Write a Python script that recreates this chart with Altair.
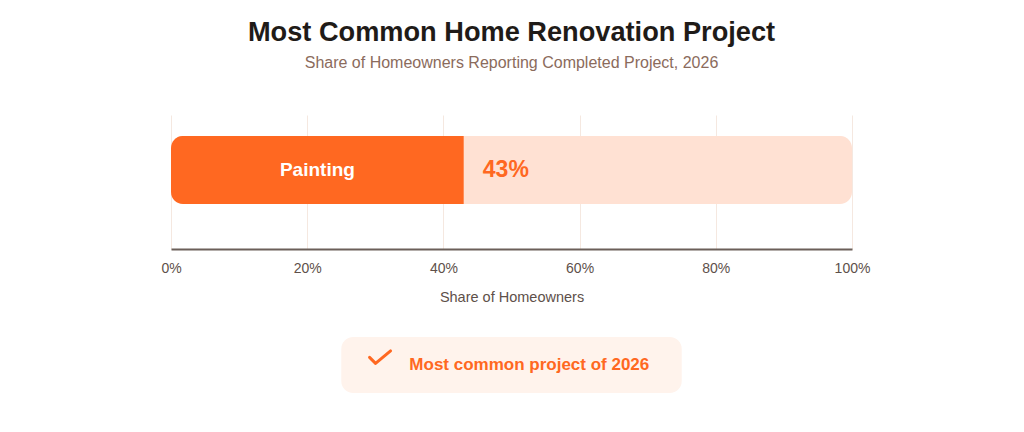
"""Most common home renovation project (Altair)."""

import altair as alt
import pandas as pd

FONT = "Liberation Sans"
ORANGE = "#ff6821"
PEACH = "#ffe1d3"

# data
projects = ["Painting"]
shares = [43]
track_end = [100]
axis_ticks = [0, 20, 40, 60, 80, 100]

callout_text = ["Most common project of 2026"]
callout_start = [25]
callout_end = [75]
check_x = [30.7]
check_y = [0.64]
text_x = [35]
text_y = [0.5]

bars = pd.DataFrame({"project": projects, "share": shares, "track": track_end})
bars["mid"] = bars["share"] / 2
bars["label"] = bars["share"].astype(int).astype(str) + "%"

x_scale = alt.Scale(domain=[0, 100], nice=False)
# single band, 68px thick, sitting a little above the middle of the plot
band_scale = alt.Scale(paddingInner=0, paddingOuter=0.485, align=0.318)

base = alt.Chart(bars).encode(y=alt.Y("project:N", axis=None, scale=band_scale))

track = base.mark_bar(color=PEACH, cornerRadius=12).encode(
    x=alt.X(
        "track:Q",
        scale=x_scale,
        title="Share of Homeowners",
        axis=alt.Axis(
            values=axis_ticks,
            labelExpr="datum.value + '%'",
            labelFlush=False,
            ticks=False,
            tickSize=0,
            domainColor="#6b5f59",
            domainWidth=2,
            gridColor="#f5e8e0",
            labelPadding=12,
            labelFontSize=14,
            labelColor="#5e504a",
            labelFont=FONT,
            titleFont=FONT,
            titleFontSize=14.5,
            titleFontWeight="normal",
            titleColor="#5e504a",
            titlePadding=15,
        ),
    ),
)

fill = base.mark_bar(
    color=ORANGE, cornerRadiusTopLeft=12, cornerRadiusBottomLeft=12
).encode(x=alt.X("share:Q", scale=x_scale))

name = base.mark_text(
    color="white", font=FONT, fontSize=19, fontWeight="bold"
).encode(x=alt.X("mid:Q", scale=x_scale), text="project:N")

pct = base.mark_text(
    color=ORANGE, font=FONT, fontSize=23, fontWeight="bold", align="left", dx=19
).encode(x=alt.X("share:Q", scale=x_scale), text="label:N")

top = alt.layer(track, fill, name, pct).properties(width=681, height=134)

# callout below the axis
note = pd.DataFrame(
    {
        "x0": callout_start,
        "x1": callout_end,
        "cx": check_x,
        "cy": check_y,
        "tx": text_x,
        "ty": text_y,
        "text": callout_text,
    }
)
y_scale = alt.Scale(domain=[0, 1], nice=False)
nbase = alt.Chart(note)

box = nbase.mark_rect(color="#fff3ec", cornerRadius=12).encode(
    x=alt.X("x0:Q", scale=x_scale, axis=None),
    x2="x1:Q",
    y=alt.Y("y0:Q", scale=y_scale, axis=None),
    y2="y1:Q",
).transform_calculate(y0="0", y1="1")

check = nbase.mark_point(
    shape="M-1,0.024L-0.43,0.595L1,-0.595",
    filled=False,
    color=ORANGE,
    strokeWidth=3,
    strokeCap="round",
    strokeJoin="round",
    size=441,
    opacity=1,
).encode(
    x=alt.X("cx:Q", scale=x_scale, axis=None),
    y=alt.Y("cy:Q", scale=y_scale, axis=None),
)

ntext = nbase.mark_text(
    color=ORANGE, font=FONT, fontSize=17, fontWeight="bold", align="left"
).encode(
    x=alt.X("tx:Q", scale=x_scale, axis=None),
    y=alt.Y("ty:Q", scale=y_scale, axis=None),
    text="text:N",
)

bottom = alt.layer(box, check, ntext).properties(width=681, height=56)

chart = (
    alt.vconcat(top, bottom, spacing=88, bounds="flush")
    .properties(
        padding={"left": 152, "top": 11, "right": 5, "bottom": 5},
        title=alt.TitleParams(
            text="Most Common Home Renovation Project",
            subtitle="Share of Homeowners Reporting Completed Project, 2026",
            font=FONT,
            fontSize=27.2,
            fontWeight="bold",
            color="#1f1b18",
            subtitleFont=FONT,
            subtitleFontSize=16,
            subtitleColor="#8b6b5c",
            subtitlePadding=7,
            anchor="middle",
            frame="group",
            offset=43,
        ),
    )
    .configure_view(stroke="transparent")
)

chart.save("out.html", embed_options={"renderer": "svg", "actions": False})
